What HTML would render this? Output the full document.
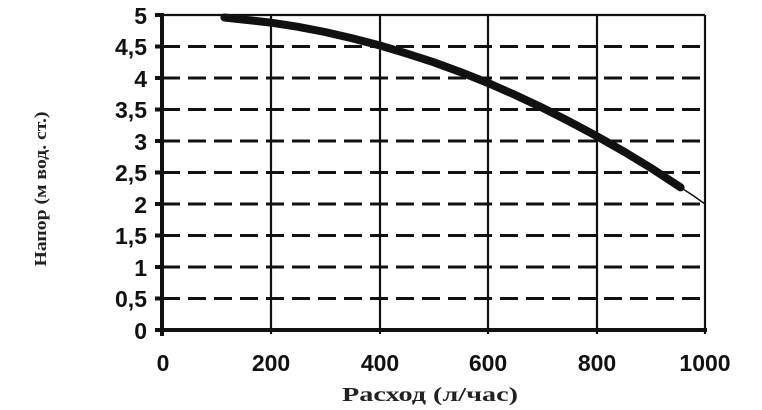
<!DOCTYPE html>
<html><head><meta charset="utf-8"><style>body{margin:0;background:#fff}</style></head>
<body>
<svg width="762" height="405" xmlns="http://www.w3.org/2000/svg">
<g stroke="#111" stroke-width="3" stroke-dasharray="18,8">
<line x1="162" x2="705" y1="298.5" y2="298.5"/>
<line x1="162" x2="705" y1="267" y2="267"/>
<line x1="162" x2="705" y1="235.5" y2="235.5"/>
<line x1="162" x2="705" y1="204" y2="204"/>
<line x1="162" x2="705" y1="172.5" y2="172.5"/>
<line x1="162" x2="705" y1="141" y2="141"/>
<line x1="162" x2="705" y1="109.5" y2="109.5"/>
<line x1="162" x2="705" y1="78" y2="78"/>
<line x1="162" x2="705" y1="46.5" y2="46.5"/>
</g>
<g stroke="#111" stroke-width="2.2">
<line x1="271" x2="271" y1="15" y2="334"/>
<line x1="380" x2="380" y1="15" y2="334"/>
<line x1="488" x2="488" y1="15" y2="334"/>
<line x1="597" x2="597" y1="15" y2="334"/>
<line x1="705" x2="705" y1="15" y2="334"/>
<line x1="158" x2="705" y1="15" y2="15"/>
</g>
<g stroke="#111" stroke-width="4">
<line x1="162" x2="162" y1="13" y2="336"/>
<line x1="155" x2="707" y1="330" y2="330"/>
</g>
<g stroke="#111" stroke-width="4">
<line x1="155" x2="162" y1="46.5" y2="46.5"/><line x1="155" x2="162" y1="78" y2="78"/>
<line x1="155" x2="162" y1="109.5" y2="109.5"/><line x1="155" x2="162" y1="141" y2="141"/>
<line x1="155" x2="162" y1="172.5" y2="172.5"/><line x1="155" x2="162" y1="204" y2="204"/>
<line x1="155" x2="162" y1="235.5" y2="235.5"/><line x1="155" x2="162" y1="267" y2="267"/>
<line x1="155" x2="162" y1="298.5" y2="298.5"/><line x1="155" x2="162" y1="15" y2="15"/>
</g>
<polyline fill="none" stroke="#111" stroke-width="8" stroke-linecap="round" points="224.4,17.5 270.6,22.6 298,26.8 325,32 352,38.2 379,45.2 406,53.3 433.5,62.2 461,72.2 488,83 515,94.9 542,107.6 569,121.3 596.5,136 624,151.6 651,168 680.6,187.4"/>
<polyline fill="none" stroke="#111" stroke-width="1.5" points="680.6,187.4 693,195.5 705,204"/>
<g font-family="Liberation Sans, sans-serif" font-weight="bold" font-size="23" fill="#111" text-anchor="end">
<text x="147" y="24">5</text><text x="147" y="55">4,5</text><text x="147" y="87">4</text>
<text x="147" y="118">3,5</text><text x="147" y="150">3</text><text x="147" y="181">2,5</text>
<text x="147" y="213">2</text><text x="147" y="244">1,5</text><text x="147" y="276">1</text>
<text x="147" y="307">0,5</text><text x="147" y="339">0</text>
</g>
<g font-family="Liberation Sans, sans-serif" font-weight="bold" font-size="23" fill="#111" text-anchor="middle">
<text x="163" y="371">0</text><text x="271" y="371">200</text><text x="380" y="371">400</text>
<text x="488" y="371">600</text><text x="597" y="371">800</text><text x="705" y="371">1000</text>
</g>
<text x="430" y="401" font-family="Liberation Serif, serif" font-weight="bold" font-size="20" fill="#222" text-anchor="middle" textLength="176" lengthAdjust="spacingAndGlyphs">Расход (л/час)</text>
<text transform="translate(46,189) rotate(-90)" font-family="Liberation Serif, serif" font-weight="bold" font-size="17" fill="#222" text-anchor="middle" textLength="155" lengthAdjust="spacingAndGlyphs">Напор (м вод. ст.)</text>
</svg>
</body></html>
